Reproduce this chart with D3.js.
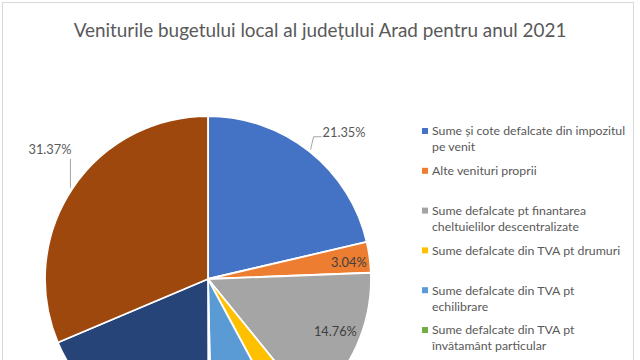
<!DOCTYPE html>
<html><head><meta charset="utf-8">
<script src="https://cdn.jsdelivr.net/npm/d3@7"></script>
<style>body{margin:0;background:#fff}svg{display:block}</style>
</head><body>
<svg id="c" width="640" height="360"></svg>
<script>
const title = "Veniturile bugetului local al județului Arad pentru anul 2021";
const categories = [
  "Sume și cote defalcate din impozitul pe venit",
  "Alte venituri proprii",
  "Sume defalcate pt finantarea cheltuielilor descentralizate",
  "Sume defalcate din TVA pt drumuri",
  "Sume defalcate din TVA pt echilibrare",
  "Sume defalcate din TVA pt învătamânt particular",
  "Subvenții",
  "Alte sume"
];
const legendLines = [
  ["Sume și cote defalcate din impozitul", "pe venit"],
  ["Alte venituri proprii"],
  ["Sume defalcate pt finantarea", "cheltuielilor descentralizate"],
  ["Sume defalcate din TVA pt drumuri"],
  ["Sume defalcate din TVA pt", "echilibrare"],
  ["Sume defalcate din TVA pt", "învătamânt particular"]
];
const values = [21.35, 3.04, 14.76, 3.0, 7.5, 0.3, 18.68, 31.37];
const colors = ["#4472C4","#ED7D31","#A5A5A5","#FFC000","#5B9BD5","#70AD47","#264478","#9E480E"];

const svg = d3.select("#c");
const W = 640, H = 360;
svg.append("rect").attr("x",2.5).attr("y",2.5).attr("width",631).attr("height",H+10)
  .attr("fill","#fff").attr("stroke","#d9d9d9").attr("stroke-width",1);

svg.append("text").attr("x",320).attr("y",37).attr("text-anchor","middle")
  .attr("font-family","Lato, 'Open Sans', sans-serif").attr("font-size",18.9)
  .attr("fill","#595959").text(title);

const cx = 208, cy = 279, R = 163;
const pie = d3.pie().sort(null).value(d => d)(values);
const arc = d3.arc().innerRadius(0).outerRadius(R);
const g = svg.append("g").attr("transform",`translate(${cx},${cy})`);
g.selectAll("path").data(pie).join("path")
  .attr("d", arc).attr("fill",(d,i)=>colors[i])
  .attr("stroke","#fff").attr("stroke-width",1.8).attr("stroke-linejoin","round");

const fmt = v => v.toFixed(2) + "%";
const lblFont = "Lato, 'Open Sans', sans-serif";
const mid = d => (d.startAngle + d.endAngle)/2;
const pt = (a, r) => [Math.sin(a)*r, -Math.cos(a)*r];

// inside labels
[1,2].forEach(i => {
  const d = pie[i];
  const [x,y] = pt(mid(d) + (i===1?0.02:-0.035), R*(i===1?0.87:0.845));
  g.append("text").attr("x",x).attr("y",y).attr("dy","0.35em").attr("text-anchor","middle")
    .attr("font-family",lblFont).attr("font-size",12.8).attr("fill","#404040").text(fmt(values[i]));
});
// outside label for first slice (right side, elbow leader)
{
  const d = pie[0];
  const [ex,ey] = pt(mid(d), R+2);
  const ly = ey - 13;
  const pts = [[ex,ey],[ex+3, ly],[ex+11, ly]];
  g.append("path").attr("d", d3.line()(pts)).attr("fill","none").attr("stroke","#a6a6a6").attr("stroke-width",1);
  g.append("text").attr("x",ex+12).attr("y",ly-4).attr("dy","0.35em")
    .attr("font-family",lblFont).attr("font-size",12.8).attr("fill","#595959").text(fmt(values[0]));
}
// outside label for last slice (left side, vertical leader)
{
  const d = pie[7];
  const [ex,ey] = pt(mid(d), R+2);
  const pts = [[ex,ey],[ex, ey-29]];
  g.append("path").attr("d", d3.line()(pts)).attr("fill","none").attr("stroke","#a6a6a6").attr("stroke-width",1);
  g.append("text").attr("x",ex+1).attr("y",ey-34).attr("text-anchor","end")
    .attr("font-family",lblFont).attr("font-size",12.8).attr("fill","#595959").text(fmt(values[7]));
}

// legend
const lg = svg.append("g");
legendLines.forEach((lines, i) => {
  const y0 = 131 + i*39.8;
  lg.append("rect").attr("x",422).attr("y",y0-3).attr("width",6).attr("height",6).attr("fill",colors[i]);
  lines.forEach((t, j) => {
    lg.append("text").attr("x",432).attr("y",y0 + j*16).attr("dy","0.35em")
      .attr("font-family",lblFont).attr("font-size",12.3).attr("fill","#595959").text(t);
  });
});
</script>
</body></html>
